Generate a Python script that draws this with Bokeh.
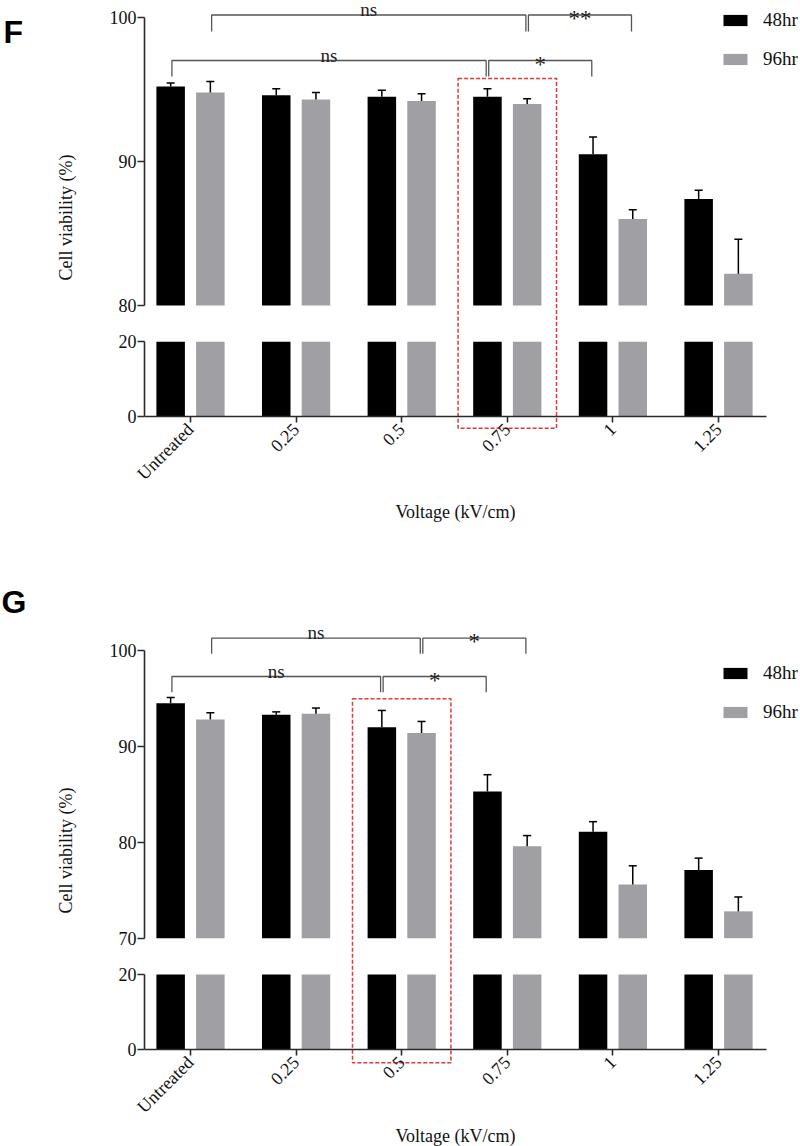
import numpy as np
from bokeh.plotting import figure
from bokeh.models import Range1d, LinearAxis, FixedTicker, Legend, LegendItem
from bokeh.core.properties import value
from bokeh.embed import file_html
from bokeh.resources import INLINE

# ---------------- data ----------------
categories = ["Untreated", "0.25", "0.5", "0.75", "1", "1.25"]
series_names = ["48hr", "96hr"]

f_48hr = [95.2, 94.6, 94.5, 94.5, 90.5, 87.4]
f_48hr_err = [0.25, 0.45, 0.45, 0.55, 1.2, 0.6]
f_96hr = [94.8, 94.3, 94.2, 94.0, 86.0, 82.2]
f_96hr_err = [0.75, 0.5, 0.5, 0.35, 0.65, 2.4]

g_48hr = [94.5, 93.3, 92.0, 85.3, 81.1, 77.1]
g_48hr_err = [0.6, 0.3, 1.75, 1.75, 1.05, 1.25]
g_96hr = [92.8, 93.4, 91.4, 79.6, 75.6, 72.8]
g_96hr_err = [0.7, 0.6, 1.2, 1.1, 1.95, 1.5]

f_upper_ticks = [80, 90, 100]
g_upper_ticks = [70, 80, 90, 100]
lower_ticks = [0, 20]

# (from category, from series, to category, to series, label, tier)
f_sig = [
    ("Untreated", "96hr", "0.75", "96hr", "ns", 0),
    ("0.75", "96hr", "1", "96hr", "**", 0),
    ("Untreated", "48hr", "0.75", "48hr", "ns", 1),
    ("0.75", "48hr", "1", "48hr", "*", 1),
]
g_sig = [
    ("Untreated", "96hr", "0.5", "96hr", "ns", 0),
    ("0.5", "96hr", "0.75", "96hr", "*", 0),
    ("Untreated", "48hr", "0.5", "48hr", "ns", 1),
    ("0.5", "48hr", "0.75", "48hr", "*", 1),
]
f_highlight = "0.75"
g_highlight = "0.5"

# ---------------- layout (page pixels) ----------------
W, H = 800, 1146
OX, OY = 0, 0
CAT0, STEP = 190.0, 105.6
AX_X0, AX_X1 = 144.0, 766.0
BAR_W = 0.27
OFFS = {"48hr": -0.188, "96hr": 0.188}
COLORS = {"48hr": "#000000", "96hr": "#a0a0a4"}
SERIF = "Liberation Serif"
AXIS_COLOR = "#2a2a2a"


def xu(px):
    return (px - CAT0) / STEP


def seg_range(v_lo, y_lo, v_hi, y_hi):
    s = (v_hi - v_lo) / (y_lo - y_hi)
    return Range1d(start=v_lo - (OY + H - y_lo) * s, end=v_hi + (y_hi - OY) * s)


panels = [
    dict(key="f", letter="F", data={"48hr": (f_48hr, f_48hr_err), "96hr": (f_96hr, f_96hr_err)},
         upper=(80, 100), upper_px=(305.0, 17.0), lower_px=(416.0, 341.3),
         ticks=f_upper_ticks, sig=f_sig, sig_px=[(14.5, 31.0), (60.0, 76.0)],
         hl=f_highlight, hl_px=(78.0, 427.7), letter_pos=(3, 31), ylabel_y=217,
         xtitle_base=511, legend_top=13),
    dict(key="g", letter="G", data={"48hr": (g_48hr, g_48hr_err), "96hr": (g_96hr, g_96hr_err)},
         upper=(70, 100), upper_px=(937.7, 650.0), lower_px=(1049.0, 974.0),
         ticks=g_upper_ticks, sig=g_sig, sig_px=[(637.7, 653.3), (676.0, 691.7)],
         hl=g_highlight, hl_px=(698.3, 1062.3), letter_pos=(1, 601), ylabel_y=850,
         xtitle_base=1135, legend_top=666),
]

extra_y = {}
for pn in panels:
    lo, hi = pn["upper"]
    extra_y[pn["key"] + "t"] = seg_range(lo, pn["upper_px"][0], hi, pn["upper_px"][1])
    extra_y[pn["key"] + "b"] = seg_range(lower_ticks[0], pn["lower_px"][0],
                                         lower_ticks[-1], pn["lower_px"][1])

p = figure(width=W, height=H, output_backend="svg", toolbar_location=None,
           x_range=Range1d(xu(OX), xu(OX + W)), y_range=Range1d(OY + H, OY),
           x_axis_type=None, y_axis_type=None, min_border=0, title=None,
           outline_line_color=None, background_fill_color="white",
           border_fill_color="white")
p.extra_y_ranges = extra_y
p.extra_x_ranges = {"px": Range1d(OX, OX + W)}


def style_axis(ax):
    ax.axis_line_color = AXIS_COLOR
    ax.axis_line_width = 1.6
    ax.major_tick_line_color = AXIS_COLOR
    ax.major_tick_line_width = 1.6
    ax.major_tick_in = 0
    ax.minor_tick_in = 0
    ax.minor_tick_out = 0
    ax.major_label_text_font = SERIF
    ax.major_label_text_font_size = "18px"
    ax.major_label_text_color = "#111111"


idx = {c: i for i, c in enumerate(categories)}
base = np.arange(len(categories), dtype=float)

for pn in panels:
    k = pn["key"]
    lo, hi = pn["upper"]
    top_name, bot_name = k + "t", k + "b"
    legend_renderers = []
    for s in series_names:
        vals, errs = (np.array(a, dtype=float) for a in pn["data"][s])
        xs = base + OFFS[s]
        r = p.vbar(x=xs, width=BAR_W, bottom=lo, top=vals, y_range_name=top_name,
                   fill_color=COLORS[s], line_color=None)
        legend_renderers.append(r)
        p.vbar(x=xs, width=BAR_W, bottom=lower_ticks[0],
               top=np.minimum(vals, lower_ticks[-1]), y_range_name=bot_name,
               fill_color=COLORS[s], line_color=None)
        # upper error bars
        p.segment(x0=xs, y0=vals, x1=xs, y1=vals + errs, y_range_name=top_name,
                  line_color="black", line_width=1.5)
        p.segment(x0=xs - 0.038, y0=vals + errs, x1=xs + 0.038, y1=vals + errs,
                  y_range_name=top_name, line_color="black", line_width=1.5)

    # axes
    ax_loc = xu(AX_X0)
    yt = LinearAxis(y_range_name=top_name, fixed_location=ax_loc, bounds=(lo, hi),
                    ticker=FixedTicker(ticks=pn["ticks"]), major_tick_out=7,
                    major_label_standoff=1)
    style_axis(yt)
    p.add_layout(yt, "left")
    yb = LinearAxis(y_range_name=bot_name, fixed_location=ax_loc,
                    bounds=(lower_ticks[0], lower_ticks[-1]),
                    ticker=FixedTicker(ticks=lower_ticks), major_tick_out=7,
                    major_label_standoff=1)
    style_axis(yb)
    p.add_layout(yb, "left")
    xa = LinearAxis(y_range_name=bot_name, fixed_location=lower_ticks[0],
                    bounds=(xu(AX_X0), xu(AX_X1)),
                    ticker=FixedTicker(ticks=list(range(len(categories)))),
                    major_label_overrides={i: c for i, c in enumerate(categories)},
                    major_label_orientation=np.pi / 4, major_tick_out=6,
                    major_label_standoff=4)
    style_axis(xa)
    p.add_layout(xa, "below")

    # significance brackets
    xs_l, ys_l, tx, ty, tt, sx, sy, st = [], [], [], [], [], [], [], []
    for c1, s1, c2, s2, lab, tier in pn["sig"]:
        x1 = idx[c1] + OFFS[s1] + 0.012
        x2 = idx[c2] + OFFS[s2] - 0.012
        yl, yd = pn["sig_px"][tier]
        xs_l.append([x1, x1, x2, x2])
        ys_l.append([yd, yl, yl, yd])
        if "*" in lab:
            sx.append((x1 + x2) / 2); sy.append(yl + 3.5); st.append(lab)
        else:
            tx.append((x1 + x2) / 2); ty.append(yl - 5.5); tt.append(lab)
    p.multi_line(xs=xs_l, ys=ys_l, line_color="#555555", line_width=1.3)
    p.text(x=tx, y=ty, text=tt, text_font=value(SERIF), text_font_size="19px",
           text_align="center", text_baseline="alphabetic", text_color="#222222")
    p.text(x=sx, y=sy, text=st, text_font=value(SERIF), text_font_size="23px",
           text_align="center", text_baseline="alphabetic", text_color="#222222")

    # highlight box
    hc = idx[pn["hl"]]
    p.quad(left=[hc - 0.466], right=[hc + 0.466], top=[pn["hl_px"][0]],
           bottom=[pn["hl_px"][1]], fill_color=None, line_color="#e03a3a",
           line_width=1.5, line_dash="4 2")

    # panel letter, axis titles
    lx, ly = pn["letter_pos"]
    p.text(x=[lx], y=[ly], text=[pn["letter"]], x_range_name="px",
           text_font=value("Liberation Sans"), text_font_style="bold",
           text_font_size="32px", text_align="left", text_baseline="alphabetic",
           text_color="black")
    p.text(x=[65], y=[pn["ylabel_y"]], text=["Cell viability (%)"], x_range_name="px",
           angle=np.pi / 2, text_font=value(SERIF), text_font_size="18px",
           text_align="center", text_baseline="middle", text_color="#111111")
    p.text(x=[455], y=[pn["xtitle_base"]], text=["Voltage (kV/cm)"], x_range_name="px",
           text_font=value(SERIF), text_font_size="18px", text_align="center",
           text_baseline="alphabetic", text_color="#111111")

    # legend
    leg_h = 20 + 17 + 20
    legend = Legend(items=[LegendItem(label=s, renderers=[r])
                           for s, r in zip(series_names, legend_renderers)],
                    location=(720 - OX, H - (pn["legend_top"] - OY) - leg_h),
                    orientation="vertical", glyph_width=30, glyph_height=14,
                    label_standoff=13, spacing=17, padding=0, margin=0,
                    label_height=20, border_line_color=None,
                    background_fill_alpha=0, label_text_font=SERIF,
                    label_text_font_size="19px", label_text_color="#111111")
    p.add_layout(legend)

open("out.html", "w").write(file_html(p, INLINE))
